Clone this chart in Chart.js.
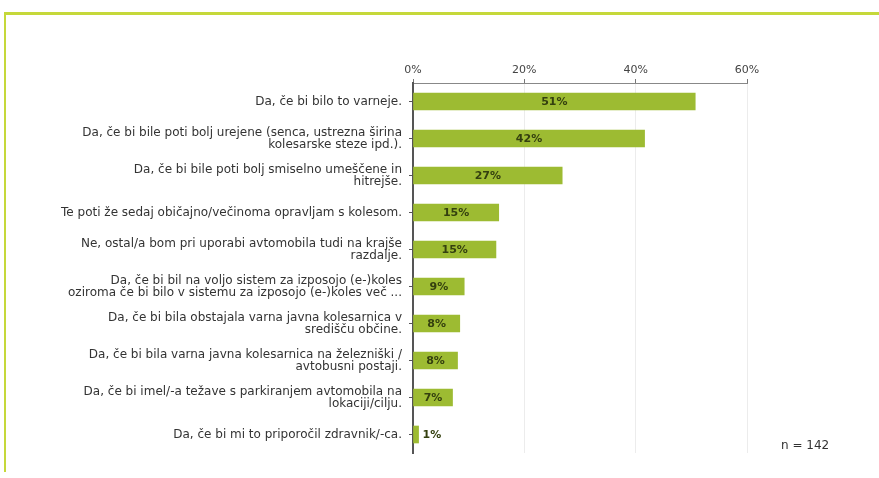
<!DOCTYPE html>
<html>
<head>
<meta charset="utf-8">
<script src="https://cdn.jsdelivr.net/npm/chart.js@4/dist/chart.umd.min.js"></script>
<style>
  body { margin: 0; background: #fff; }
  #wrap { position: relative; width: 879px; height: 478px; overflow: hidden; }
  #topLine { position: absolute; left: 4px; top: 12px; width: 875px; height: 3px; background: #c5d83a; }
  #leftLine { position: absolute; left: 4px; top: 12px; width: 2px; height: 460px; background: #c5d83a; }
  #chart { position: absolute; left: 0; top: 0; }
  #note { position: absolute; left: 781px; top: 438px; font: 12px "DejaVu Sans", sans-serif; color: #333; }
</style>
</head>
<body>
<div id="wrap">
  <div id="topLine"></div>
  <div id="leftLine"></div>
  <canvas id="chart" width="879" height="478"></canvas>
  <div id="note">n = 142</div>
</div>
<script>
var categories = [
    "Da, če bi bilo to varneje.",
    ["Da, če bi bile poti bolj urejene (senca, ustrezna širina", "kolesarske steze ipd.)."],
    ["Da, če bi bile poti bolj smiselno umeščene in", "hitrejše."],
    "Te poti že sedaj običajno/večinoma opravljam s kolesom.",
    ["Ne, ostal/a bom pri uporabi avtomobila tudi na krajše", "razdalje."],
    ["Da, če bi bil na voljo sistem za izposojo (e-)koles", "oziroma če bi bilo v sistemu za izposojo (e-)koles več ..."],
    ["Da, če bi bila obstajala varna javna kolesarnica v", "središču občine."],
    ["Da, če bi bila varna javna kolesarnica na železniški /", "avtobusni postaji."],
    ["Da, če bi imel/-a težave s parkiranjem avtomobila na", "lokaciji/cilju."],
    "Da, če bi mi to priporočil zdravnik/-ca."
];

var shares = [50.7, 41.6, 26.8, 15.4, 14.9, 9.2, 8.4, 8.0, 7.1, 1.0];

var tickValues = [0, 20, 40, 60];

var barColor = "#9dbb32";
var font = "DejaVu Sans";

// values inside the bar, or just right of it when the bar is too short
var barLabels = {
    id: "barLabels",
    afterDatasetsDraw: function(chart) {
        var ctx = chart.ctx;
        var meta = chart.getDatasetMeta(0);
        ctx.save();
        ctx.font = "bold 11px '" + font + "'";
        ctx.fillStyle = "#34400f";
        ctx.textBaseline = "middle";
        meta.data.forEach(function(bar, i) {
            var text = Math.round(shares[i]) + "%";
            var w = ctx.measureText(text).width;
            var len = bar.x - bar.base;
            if (len > w + 6) {
                ctx.textAlign = "center";
                ctx.fillText(text, bar.base + len / 2, bar.y + 1);
            } else {
                ctx.textAlign = "left";
                ctx.fillText(text, bar.x + 4, bar.y + 1);
            }
        });
        ctx.restore();
    }
};

new Chart(document.getElementById("chart").getContext("2d"), {
    type: "bar",
    data: {
        labels: categories,
        datasets: [{
            data: shares,
            backgroundColor: barColor,
            barThickness: 17
        }]
    },
    options: {
        indexAxis: "y",
        responsive: false,
        animation: false,
        layout: { padding: { left: 0, top: 61, right: 132, bottom: 25 } },
        plugins: {
            legend: { display: false },
            tooltip: { enabled: false }
        },
        scales: {
            x: {
                position: "top",
                min: 0,
                max: 60,
                afterBuildTicks: function(scale) {
                    scale.ticks = tickValues.map(function(v) { return { value: v }; });
                },
                afterFit: function(scale) { scale.height = 22; },
                ticks: {
                    padding: 2,
                    color: "#444",
                    font: { family: font, size: 11 },
                    callback: function(v) { return v + "%"; }
                },
                grid: { color: "#ececec", tickColor: "#777", tickLength: 4 },
                border: { color: "#888", width: 1 }
            },
            y: {
                afterFit: function(scale) { scale.width = 413; },
                ticks: {
                    padding: 7,
                    color: "#333",
                    font: { family: font, size: 12, lineHeight: "12px" }
                },
                grid: { offset: false, drawOnChartArea: false, tickColor: "#555", tickLength: 4 },
                border: { color: "#555", width: 2 }
            }
        }
    },
    plugins: [barLabels]
});
</script>
</body>
</html>
